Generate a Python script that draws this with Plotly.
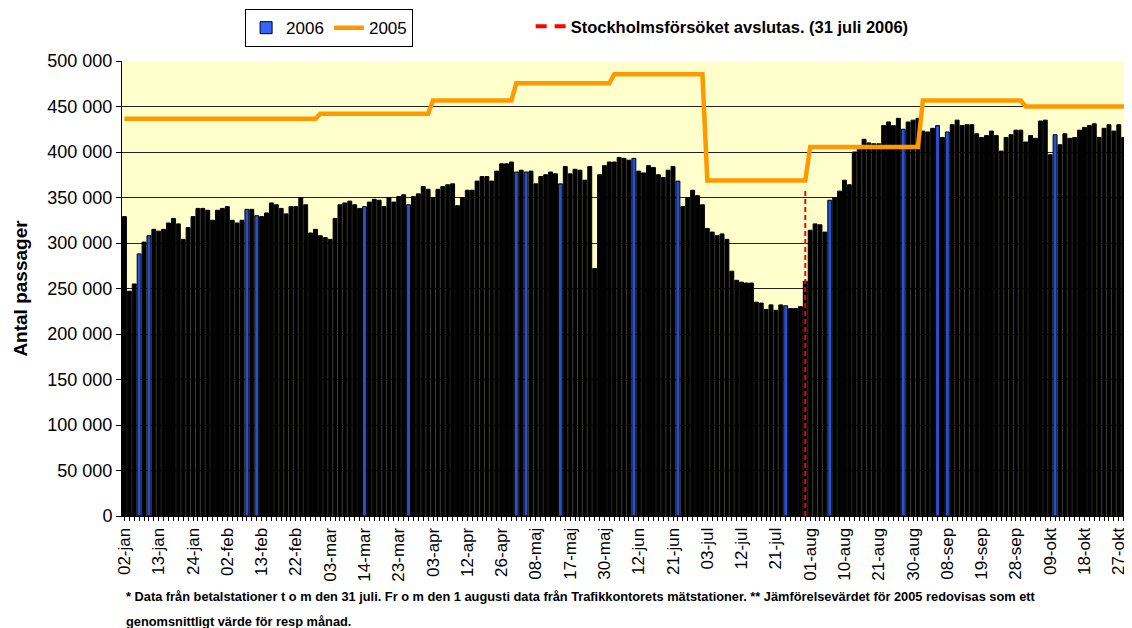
import datetime
import plotly.graph_objects as go

# ---------------- data ----------------
# Daily passages 2006 (weekdays with toll charging, 02-jan .. 31-okt)
values_2006 = [
    329000, 247000, 255000, 288000, 301000, 308000, 315000, 313000, 315000, 322000,
    327000, 321000, 304000, 317000, 329000, 338000, 338000, 336000, 325000, 336000,
    338000, 340000, 325000, 322000, 325000, 337000, 337000, 330000, 329000, 333000,
    344000, 342000, 338000, 332000, 340000, 340000, 350000, 342000, 311000, 315000,
    308000, 306000, 304000, 327000, 342000, 344000, 346000, 342000, 338000, 340000,
    345000, 348000, 347000, 340000, 350000, 345000, 351000, 353000, 342000, 351000,
    354000, 362000, 359000, 350000, 359000, 362000, 364000, 365000, 341000, 350000,
    358000, 358000, 368000, 373000, 373000, 368000, 379000, 387000, 387000, 389000,
    378000, 380000, 378000, 379000, 365000, 373000, 375000, 378000, 376000, 365000,
    384000, 376000, 381000, 380000, 369000, 384000, 272000, 375000, 385000, 389000,
    389000, 394000, 393000, 391000, 393000, 379000, 377000, 385000, 383000, 375000,
    372000, 380000, 384000, 368000, 340000, 350000, 358000, 352000, 342000, 316000,
    312000, 308000, 310000, 304000, 269000, 259000, 257000, 256000, 256000, 235000,
    234000, 227000, 232000, 226000, 232000, 231000, 228000, 228000, 230000, 258000,
    314000, 321000, 320000, 312000, 347000, 350000, 357000, 369000, 364000, 400000,
    403000, 414000, 410000, 409000, 409000, 429000, 433000, 429000, 437000, 425000,
    433000, 435000, 437000, 423000, 422000, 426000, 429000, 416000, 422000, 430000,
    435000, 429000, 430000, 430000, 420000, 416000, 418000, 423000, 418000, 401000,
    416000, 419000, 424000, 424000, 411000, 418000, 415000, 434000, 435000, 397000,
    419000, 408000, 420000, 415000, 416000, 424000, 427000, 429000, 431000, 416000,
    426000, 430000, 423000, 430000, 416000, 407000,
]

# 2005 comparison value: monthly average
months = ["jan", "feb", "mar", "apr", "maj", "jun", "jul", "aug", "sep", "okt"]
monthly_2005 = [436500, 436500, 442000, 456600, 475500, 485500, 368600, 405500, 456600, 450000]

# days without toll data (holidays / days before holidays)
excluded_days = [
    "2006-01-05", "2006-01-06", "2006-04-13", "2006-04-14", "2006-04-17",
    "2006-05-01", "2006-05-24", "2006-05-25", "2006-06-05", "2006-06-06",
    "2006-06-23",
]

tick_labels = [
    "02-jan", "13-jan", "24-jan", "02-feb", "13-feb", "22-feb", "03-mar", "14-mar",
    "23-mar", "03-apr", "12-apr", "26-apr", "08-maj", "17-maj", "30-maj", "12-jun",
    "21-jun", "03-jul", "12-jul", "21-jul", "01-aug", "10-aug", "21-aug", "30-aug",
    "08-sep", "19-sep", "28-sep", "09-okt", "18-okt", "27-okt",
]

trial_end = "31-jul"
trial_end_level = 360000

# ---------------- categories ----------------
excl = {datetime.date.fromisoformat(d) for d in excluded_days}
dates = []
d = datetime.date(2006, 1, 2)
while d <= datetime.date(2006, 10, 31):
    if d.weekday() < 5 and d not in excl:
        dates.append(d)
    d += datetime.timedelta(days=1)
categories = [f"{x.day:02d}-{months[x.month - 1]}" for x in dates]
line_2005 = [monthly_2005[x.month - 1] for x in dates]

# bars that render with visible blue fill in the original picture
blue_look = {3, 5, 25, 27, 49, 58, 80, 82, 89, 104, 113, 135, 144, 159, 166, 168, 190}
bar_colors = ["#2a4fd6" if i in blue_look else "#000000" for i in range(len(categories))]

fig = go.Figure()
fig.add_trace(go.Bar(
    x=categories, y=values_2006, showlegend=False,
    marker=dict(color=bar_colors, line=dict(color="#000000", width=1)),
    hoverinfo="x+y",
))
# legend-only entry for 2006
fig.add_trace(go.Bar(
    x=[None], y=[None], name="2006",
    marker=dict(color="#3366FF", line=dict(color="#000000", width=1)),
))
fig.add_trace(go.Scatter(
    x=categories, y=line_2005, name="2005", mode="lines",
    line=dict(color="#FF9900", width=4.5),
))
fig.add_trace(go.Scatter(
    x=[trial_end, trial_end], y=[0, trial_end_level], mode="lines", showlegend=False,
    line=dict(color="#FF0000", width=2, dash="5px,3px"),
))
fig.add_trace(go.Scatter(
    x=[None], y=[None], mode="lines", legend="legend2",
    name="<b>Stockholmsförsöket avslutas. (31 juli 2006)</b>",
    line=dict(color="#FF0000", width=4, dash="11px,8px"),
))

tick_text = [c if c in tick_labels else "" for c in categories]

# the page body adds an 8 px offset; the figure is sized to fill the rest of the window
fig.update_layout(
    width=1124, height=620, autosize=False,
    margin=dict(l=114, r=1, t=53, b=112),
    paper_bgcolor="white", plot_bgcolor="#FFFFCC",
    font=dict(family="Liberation Sans, Arial, sans-serif", color="black", size=17),
    separators=". ",
    barmode="overlay", bargap=0.2,
    legend=dict(
        orientation="h", x=0.122, y=1.114, xanchor="left", yanchor="top",
        bordercolor="black", borderwidth=1, bgcolor="white",
        font=dict(size=17), itemwidth=30, tracegroupgap=0,
    ),
    legend2=dict(
        orientation="h", x=0.405, y=1.114, xanchor="left", yanchor="top",
        bgcolor="rgba(0,0,0,0)", font=dict(size=16.5), itemwidth=30,
    ),
    xaxis=dict(
        type="category", categoryorder="array", categoryarray=categories,
        range=[-0.5, len(categories) - 0.5],
        tickmode="array", tickvals=categories, ticktext=tick_text,
        tickangle=-90, ticks="outside", ticklen=4, tickcolor="black",
        showline=True, linecolor="black", linewidth=1,
        showgrid=False, tickfont=dict(size=17),
    ),
    yaxis=dict(
        range=[0, 500000], tickvals=list(range(0, 500001, 50000)), tickformat=",d",
        ticks="outside", ticklen=5, tickcolor="black",
        showline=True, linecolor="black", linewidth=1,
        showgrid=True, gridcolor="#222222", gridwidth=1, zeroline=False,
        tickfont=dict(size=18),
        title=dict(text="<b>Antal passager</b>", font=dict(size=19), standoff=14),
    ),
    annotations=[
        dict(text="<b>* Data från betalstationer t o m den 31 juli. Fr o m den 1 augusti data från Trafikkontorets mätstationer. ** Jämförelsevärdet för 2005 redovisas som ett</b>",
             xref="paper", yref="paper", x=0.002, y=-0.178, xanchor="left", yanchor="middle",
             showarrow=False, font=dict(size=12.8)),
        dict(text="<b>genomsnittligt värde för resp månad.</b>",
             xref="paper", yref="paper", x=0.002, y=-0.231, xanchor="left", yanchor="middle",
             showarrow=False, font=dict(size=12.8)),
    ],
)

fig.write_html("out.html")
